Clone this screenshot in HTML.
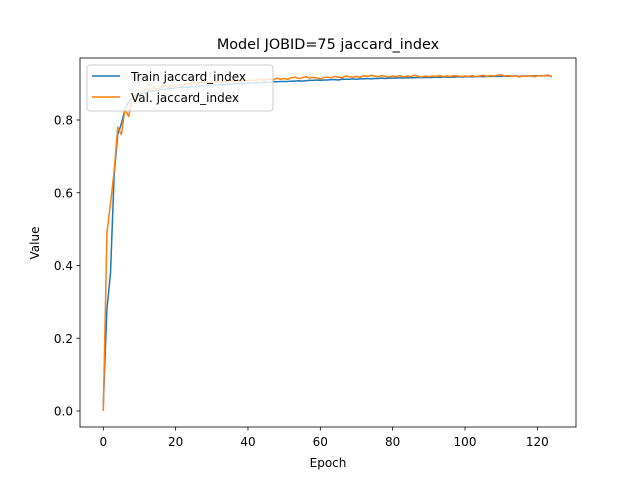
<!DOCTYPE html>
<html><head><meta charset="utf-8">
<style>
body{margin:0;background:#fff;font-family:"Liberation Sans","DejaVu Sans",sans-serif;}
svg text{font-family:"DejaVu Sans","Liberation Sans",sans-serif;}
</style></head>
<body>
<svg id="chart" width="640" height="480" xmlns="http://www.w3.org/2000/svg">
<rect width="640" height="480" fill="#fff"/>
<text x="328" y="49" text-anchor="middle" font-size="14.4">Model JOBID=75 jaccard_index</text>
<g id="ticks"></g>
<g id="lines"></g>
<rect x="80" y="58" width="496" height="369" fill="none" stroke="#000" stroke-width="0.8"/>
<text x="328" y="467" text-anchor="middle" font-size="12">Epoch</text>
<text x="39" y="243" text-anchor="middle" font-size="12" transform="rotate(-90 39 243)">Value</text>
<g>
<rect x="87" y="65" width="186" height="46" rx="3" fill="#fff" fill-opacity="0.8" stroke="#ccc"/>
<line x1="92" y1="76" x2="120" y2="76" stroke="#1f77b4" stroke-width="1.5"/>
<text x="131" y="81" font-size="12">Train jaccard_index</text>
<line x1="92" y1="97" x2="120" y2="97" stroke="#ff7f0e" stroke-width="1.5"/>
<text x="131" y="102" font-size="12">Val. jaccard_index</text>
</g>
</svg>
<script>
const xTicks=[0,20,40,60,80,100,120];
const yTicks=[0.0,0.2,0.4,0.6,0.8];
const yTickLabels=["0.0","0.2","0.4","0.6","0.8"];
const trainValues=[
0.02,0.28,0.38,0.65,0.76,0.79,0.83,0.85,0.86,0.865,
0.87,0.873,0.876,0.878,0.88,0.882,0.884,0.885,0.886,0.887,
0.888,0.889,0.89,0.89,0.891,0.892,0.893,0.893,0.894,0.895,
0.895,0.896,0.897,0.897,0.898,0.899,0.899,0.9,0.9,0.901,
0.901,0.902,0.902,0.903,0.903,0.904,0.904,0.905,0.905,0.906,
0.906,0.906,0.907,0.907,0.908,0.907,0.908,0.909,0.909,0.91,
0.909,0.91,0.91,0.911,0.911,0.91,0.912,0.912,0.912,0.913,
0.912,0.913,0.913,0.914,0.913,0.914,0.914,0.915,0.914,0.915,
0.915,0.915,0.916,0.915,0.916,0.916,0.916,0.917,0.916,0.917,
0.917,0.917,0.918,0.917,0.918,0.918,0.918,0.918,0.919,0.918,
0.919,0.919,0.919,0.919,0.92,0.919,0.92,0.92,0.92,0.92,
0.92,0.921,0.92,0.921,0.921,0.92,0.921,0.921,0.921,0.921,
0.922,0.921,0.922,0.922,0.92];
const valValues=[
0.0,0.49,0.57,0.66,0.78,0.76,0.83,0.81,0.86,0.87,
0.875,0.88,0.885,0.88,0.89,0.885,0.89,0.895,0.89,0.895,
0.893,0.897,0.895,0.9,0.898,0.902,0.9,0.904,0.902,0.905,
0.903,0.906,0.904,0.907,0.905,0.908,0.906,0.909,0.907,0.91,
0.908,0.91,0.909,0.912,0.91,0.911,0.913,0.91,0.915,0.912,
0.914,0.912,0.916,0.918,0.914,0.916,0.919,0.915,0.917,0.916,
0.913,0.917,0.918,0.916,0.92,0.918,0.916,0.921,0.919,0.918,
0.92,0.917,0.922,0.92,0.923,0.921,0.919,0.922,0.92,0.918,
0.921,0.919,0.922,0.918,0.921,0.919,0.923,0.92,0.918,0.921,
0.919,0.921,0.92,0.922,0.919,0.921,0.92,0.922,0.921,0.919,
0.921,0.92,0.922,0.919,0.921,0.923,0.92,0.922,0.921,0.923,
0.924,0.921,0.922,0.92,0.922,0.918,0.921,0.92,0.922,0.919,
0.921,0.922,0.921,0.924,0.918];
const NS="http://www.w3.org/2000/svg";
function xs(e){return 103.3+e*3.617;}
function ys(v){return 411-v*(411-120)/0.8;}
const tk=document.getElementById('ticks');
xTicks.forEach(t=>{
 const l=document.createElementNS(NS,'line');
 l.setAttribute('x1',xs(t));l.setAttribute('x2',xs(t));l.setAttribute('y1',427);l.setAttribute('y2',430.5);
 l.setAttribute('stroke','#000');l.setAttribute('stroke-width','0.8');
 
 
 tk.appendChild(l);
 const tx=document.createElementNS(NS,'text');
 tx.setAttribute('x',xs(t));tx.setAttribute('y',446);tx.setAttribute('text-anchor','middle');tx.setAttribute('font-size','12');
 tx.textContent=t;
 
 
 tk.appendChild(tx);
});
yTicks.forEach((t,i)=>{
 const l=document.createElementNS(NS,'line');
 l.setAttribute('x1',76.5);l.setAttribute('x2',80);l.setAttribute('y1',ys(t));l.setAttribute('y2',ys(t));
 l.setAttribute('stroke','#000');l.setAttribute('stroke-width','0.8');
 
 
 tk.appendChild(l);
 const tx=document.createElementNS(NS,'text');
 tx.setAttribute('x',73);tx.setAttribute('y',ys(t)+4.5);tx.setAttribute('text-anchor','end');tx.setAttribute('font-size','12');
 tx.textContent=yTickLabels[i];
 
 
 tk.appendChild(tx);
});
const lg=document.getElementById('lines');
function drawLine(vals,color,name){
 const p=document.createElementNS(NS,'polyline');
 p.setAttribute('points',vals.map((v,i)=>xs(i).toFixed(2)+','+ys(v).toFixed(2)).join(' '));
 p.setAttribute('fill','none');p.setAttribute('stroke',color);p.setAttribute('stroke-width','1.5');
 p.setAttribute('stroke-linejoin','round');
 
 
 lg.appendChild(p);
}
drawLine(trainValues,'#1f77b4','train-line');
drawLine(valValues,'#ff7f0e','val-line');
</script>
</body></html>
